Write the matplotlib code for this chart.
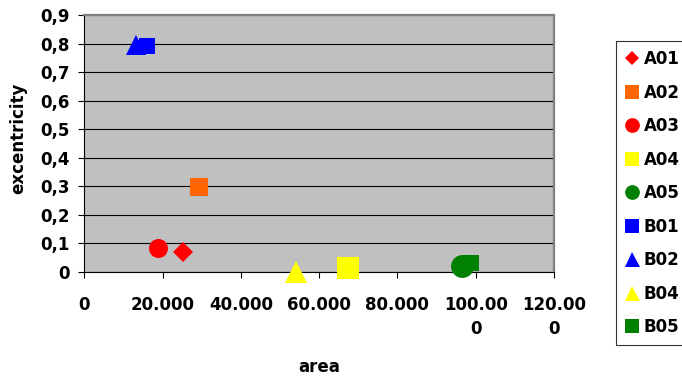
import matplotlib
matplotlib.use("Agg")
import matplotlib.pyplot as plt

# Sample series: area vs. excentricity
series_names = ["A01", "A02", "A03", "A04", "A05", "B01", "B02", "B04", "B05"]
area_values = [25100, 29200, 18900, 67300, 96600, 15900, 13200, 54200, 98900]
excentricity_values = [0.070, 0.296, 0.084, 0.013, 0.020, 0.790, 0.795, 0.000, 0.032]

series_colors = ["#FF0000", "#FF6600", "#FF0000", "#FFFF00", "#008000",
                 "#0000FF", "#0000FF", "#FFFF00", "#008000"]
series_markers = ["D", "s", "o", "s", "o", "s", "^", "^", "s"]
series_sizes = [9.7, 13.0, 13.7, 15.8, 16.5, 11.0, 15.0, 15.6, 11.0]
legend_sizes = [7.6, 10.6, 10.6, 10.6, 10.6, 10.6, 10.8, 10.8, 10.6]

x_ticks = [0, 20000, 40000, 60000, 80000, 100000, 120000]
x_tick_labels = ["0", "20.000", "40.000", "60.000", "80.000", "100.00\n0", "120.00\n0"]
y_ticks = [0, 0.1, 0.2, 0.3, 0.4, 0.5, 0.6, 0.7, 0.8, 0.9]
y_tick_labels = ["0", "0,1", "0,2", "0,3", "0,4", "0,5", "0,6", "0,7", "0,8", "0,9"]

W, H = 682, 377
fig = plt.figure(figsize=(W / 100, H / 100), dpi=100)
ax = fig.add_axes([84.3 / W, 1 - 271.7 / H, (554 - 84.3) / W, (271.7 - 15) / H])
ax.set_facecolor("#C0C0C0")

handles = [None] * len(series_names)
# later series go underneath so A05 sits on top of B05
for i in reversed(range(len(series_names))):
    (h,) = ax.plot([area_values[i]], [excentricity_values[i]],
                   linestyle="none", marker=series_markers[i],
                   markersize=series_sizes[i], color=series_colors[i],
                   markeredgewidth=0, label=series_names[i],
                   clip_on=False, zorder=3 + (len(series_names) - i) * 0.01)
    handles[i] = h

ax.set_xlim(0, 120000)
ax.set_ylim(0, 0.9)
ax.set_xticks(x_ticks)
ax.set_xticklabels(x_tick_labels, linespacing=1.45)
ax.set_yticks(y_ticks)
ax.set_yticklabels(y_tick_labels)

for lbl in ax.get_xticklabels() + ax.get_yticklabels():
    lbl.set_fontweight("bold")
    lbl.set_fontsize(12)
    lbl.set_fontfamily("DejaVu Sans")

ax.tick_params(axis="x", direction="out", length=4.5, width=0.8, color="black", pad=13)
ax.tick_params(axis="y", direction="out", length=4.5, width=0.8, color="black", pad=6)

ax.yaxis.grid(True, color="black", linewidth=0.8)
ax.set_axisbelow(True)

ax.spines["top"].set_color("#808080")
ax.spines["top"].set_linewidth(1.6)
ax.spines["right"].set_color("#808080")
ax.spines["right"].set_linewidth(1.6)
ax.spines["left"].set_color("black")
ax.spines["left"].set_linewidth(0.8)
ax.spines["bottom"].set_color("black")
ax.spines["bottom"].set_linewidth(0.8)

fig.text(319 / W, 1 - 367 / H, "area", ha="center", va="center",
         fontsize=12, fontweight="bold", family="DejaVu Sans")
fig.text(18 / W, 1 - 138.5 / H, "excentricity", ha="center", va="center",
         rotation=90, fontsize=12, fontweight="bold", family="DejaVu Sans")

leg = fig.legend(handles=handles, labels=series_names,
                 loc="upper left", bbox_to_anchor=(616 / W, 1 - 41 / H),
                 bbox_transform=fig.transFigure,
                 frameon=True, fancybox=False, edgecolor="black",
                 prop={"weight": "bold", "size": 12, "family": "DejaVu Sans"},
                 handlelength=0.8, handletextpad=0.3, labelspacing=0.93,
                 borderpad=0.55, borderaxespad=0, numpoints=1)
leg.get_frame().set_linewidth(0.8)
for h, s in zip(leg.legend_handles, legend_sizes):
    h.set_markersize(s)

fig.savefig("out.png", dpi=100)
